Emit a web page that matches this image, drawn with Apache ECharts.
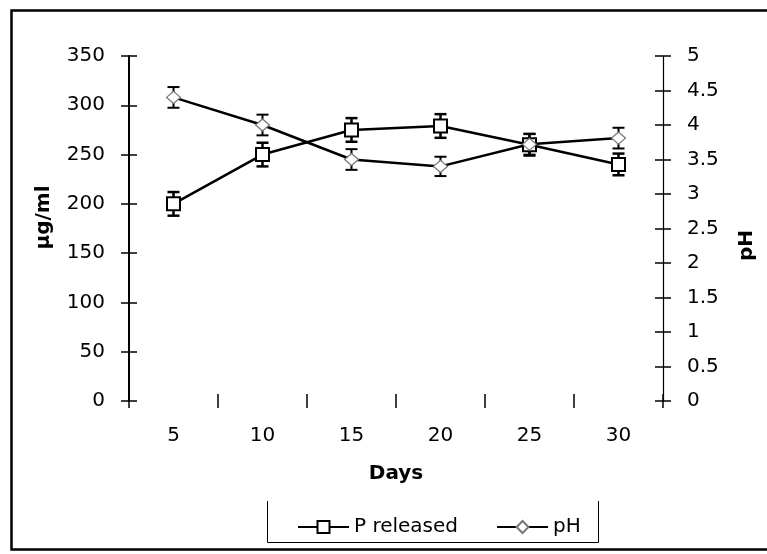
<!DOCTYPE html>
<html>
<head>
<meta charset="utf-8">
<script src="https://cdn.jsdelivr.net/npm/echarts@6/dist/echarts.min.js"></script>
<style>
  html, body { margin: 0; padding: 0; background: #fff; }
  #main { width: 767px; height: 554px; }
</style>
</head>
<body>
<div id="main"></div>
<script>
const days = ['5', '10', '15', '20', '25', '30'];
const pReleased = [200, 250, 275, 279, 260, 240];
const pReleasedErr = [12, 12, 12, 12, 11, 11];
const phValues = [4.4, 4.0, 3.5, 3.4, 3.72, 3.81];
const phErr = [0.15, 0.15, 0.15, 0.14, 0.15, 0.15];
const leftTicks = { min: 0, max: 350, interval: 50 };
const rightTicks = { min: 0, max: 5, interval: 0.5 };

const font = 'DejaVu Sans';
const chart = echarts.init(document.getElementById('main'));

// error bar rows: [index, low, high]
const toBars = (vals, errs) => vals.map((v, i) => [i, v - errs[i], v + errs[i]]);

function errorBar(lineWidth, color) {
    return function (params, api) {
        const i = api.value(0);
        const lo = api.coord([i, api.value(1)]);
        const hi = api.coord([i, api.value(2)]);
        const w = 6;
        const st = { stroke: color, lineWidth: lineWidth };
        return {
            type: 'group',
            children: [
                { type: 'line', shape: { x1: lo[0], y1: lo[1], x2: hi[0], y2: hi[1] }, style: st },
                { type: 'line', shape: { x1: lo[0] - w, y1: lo[1], x2: lo[0] + w, y2: lo[1] }, style: st },
                { type: 'line', shape: { x1: hi[0] - w, y1: hi[1], x2: hi[0] + w, y2: hi[1] }, style: st }
            ]
        };
    };
}

const labelStyle = { color: '#000', fontFamily: font, fontSize: 20 };
const titleStyle = { color: '#000', fontFamily: font, fontSize: 20, fontWeight: 'bold' };
const tickStyle = { color: '#000', width: 1.5 };

const option = {
    animation: false,
    backgroundColor: '#fff',
    grid: { left: 129, right: 104, top: 56, bottom: 153 },
    xAxis: [
        {
            type: 'category',
            data: days,
            boundaryGap: true,
            name: 'Days',
            nameLocation: 'middle',
            nameGap: 63,
            nameTextStyle: titleStyle,
            axisLine: { show: false },
            axisTick: { show: true, length: 7, lineStyle: tickStyle },
            axisLabel: { ...labelStyle, margin: 25 },
            splitLine: { show: false }
        },
        {
            type: 'category',
            data: days,
            position: 'bottom',
            axisLine: { show: false },
            axisTick: { show: true, inside: true, length: 7, lineStyle: tickStyle },
            axisLabel: { show: false },
            splitLine: { show: false }
        }
    ],
    yAxis: [
        {
            type: 'value',
            position: 'left',
            ...leftTicks,
            name: 'µg/ml',
            nameLocation: 'middle',
            nameRotate: 90,
            nameGap: 75,
            nameTextStyle: { ...titleStyle, padding: [0, 0, 0, 22] },
            axisLine: { show: true, lineStyle: { color: '#000', width: 2 } },
            axisTick: { show: true, length: 8, lineStyle: tickStyle },
            axisLabel: { ...labelStyle, margin: 24 },
            splitLine: { show: false }
        },
        {
            type: 'value',
            position: 'right',
            ...rightTicks,
            name: 'pH',
            nameLocation: 'middle',
            nameRotate: 90,
            nameGap: 74,
            nameTextStyle: { ...titleStyle, padding: [0, 34, 0, 0] },
            axisLine: { show: true, lineStyle: { color: '#000', width: 1.2 } },
            axisTick: { show: true, length: 8, lineStyle: tickStyle },
            axisLabel: { ...labelStyle, margin: 24 },
            splitLine: { show: false }
        },
        {
            type: 'value',
            position: 'left',
            ...leftTicks,
            axisLine: { show: false },
            axisTick: { show: true, inside: true, length: 8, lineStyle: tickStyle },
            axisLabel: { show: false },
            splitLine: { show: false }
        },
        {
            type: 'value',
            position: 'right',
            ...rightTicks,
            axisLine: { show: false },
            axisTick: { show: true, inside: true, length: 8, lineStyle: tickStyle },
            axisLabel: { show: false },
            splitLine: { show: false }
        }
    ],
    legend: {
        data: ['P released', 'pH'],
        left: 292,
        top: 512,
        itemWidth: 51,
        itemHeight: 15,
        itemGap: 38,
        textStyle: { color: '#000', fontFamily: font, fontSize: 20 }
    },
    graphic: [
        {
            type: 'rect',
            shape: { x: 11.5, y: 10.5, width: 770, height: 539 },
            style: { fill: 'none', stroke: '#000', lineWidth: 2.5 },
            silent: true
        },
        {
            type: 'polyline',
            shape: { points: [[267.5, 501], [267.5, 542.5], [598.5, 542.5], [598.5, 501]] },
            style: { fill: 'none', stroke: '#000', lineWidth: 1 },
            silent: true
        }
    ],
    series: [
        {
            type: 'custom',
            name: 'P err',
            xAxisIndex: 0,
            yAxisIndex: 0,
            z: 1,
            renderItem: errorBar(2.5, '#000'),
            encode: { x: 0, y: [1, 2] },
            data: toBars(pReleased, pReleasedErr)
        },
        {
            type: 'custom',
            name: 'pH err',
            xAxisIndex: 0,
            yAxisIndex: 1,
            z: 1,
            renderItem: errorBar(2, '#000'),
            encode: { x: 0, y: [1, 2] },
            data: toBars(phValues, phErr)
        },
        {
            type: 'line',
            name: 'P released',
            xAxisIndex: 0,
            yAxisIndex: 0,
            z: 3,
            data: pReleased,
            symbol: 'rect',
            symbolSize: 13,
            showAllSymbol: true,
            lineStyle: { color: '#000', width: 2.5 },
            itemStyle: { color: '#fff', borderColor: '#000', borderWidth: 2 }
        },
        {
            type: 'line',
            name: 'pH',
            xAxisIndex: 0,
            yAxisIndex: 1,
            z: 3,
            data: phValues,
            symbol: 'diamond',
            symbolSize: [14, 12],
            showAllSymbol: true,
            lineStyle: { color: '#000', width: 2.5 },
            itemStyle: { color: '#fff', borderColor: '#777', borderWidth: 1.2 }
        }
    ]
};

chart.setOption(option);
</script>
</body>
</html>
